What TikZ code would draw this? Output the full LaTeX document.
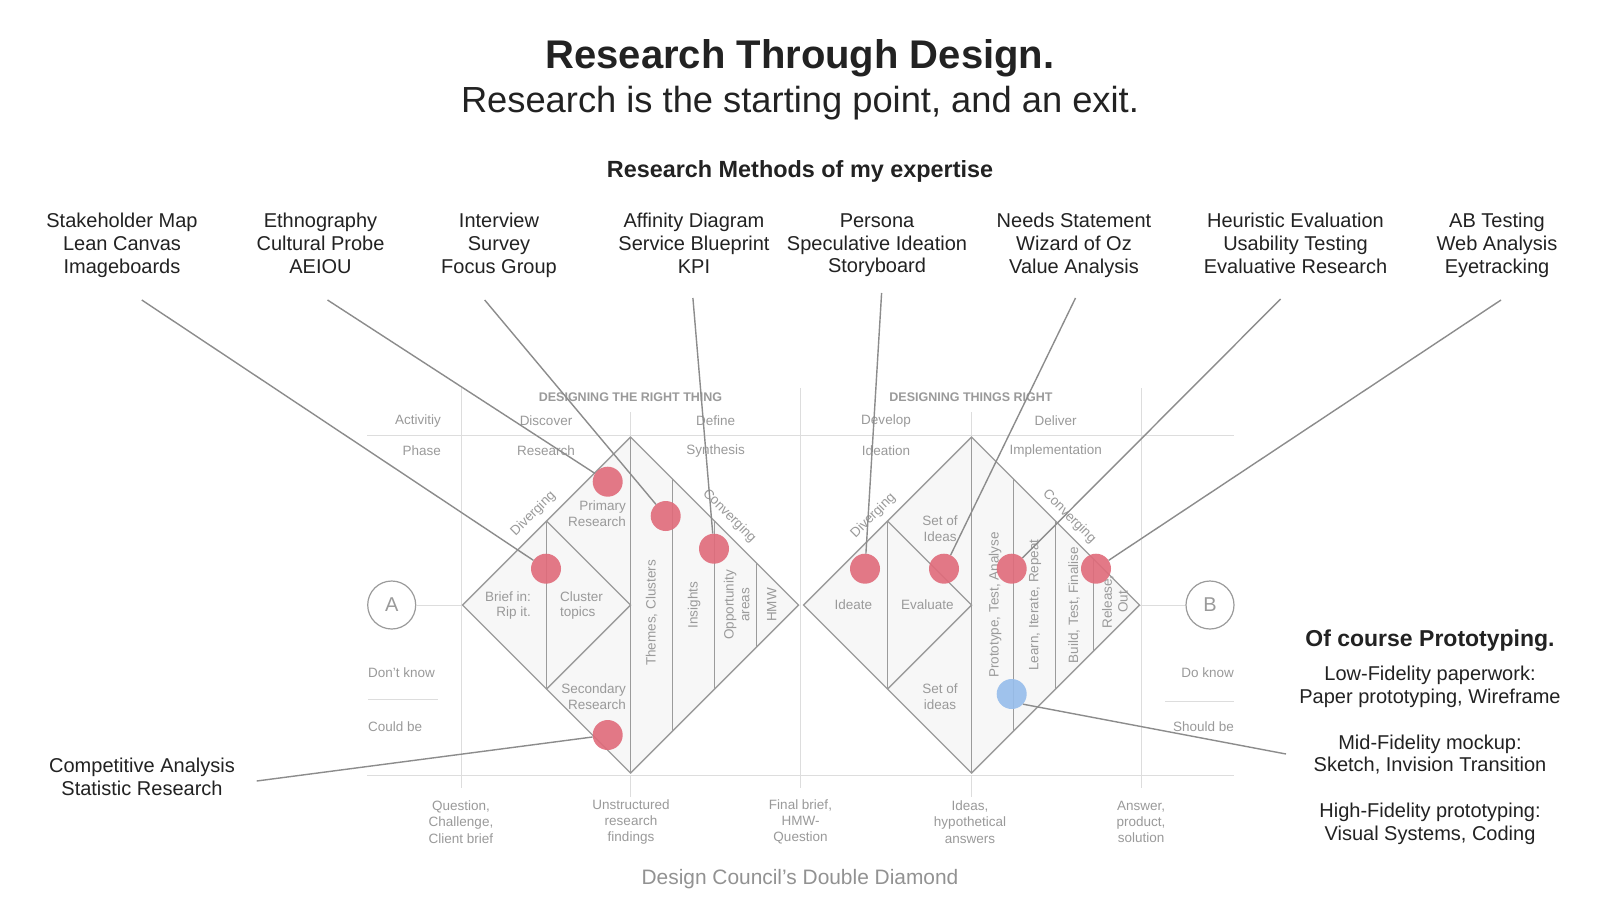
\documentclass[tikz,border=0pt]{standalone}
\usepackage{fontspec}
\setmainfont{Liberation Sans}
\newcommand\myfs[2]{\fontsize{#1}{#2}\selectfont}
\definecolor{txt}{HTML}{222222}
\definecolor{glbl}{HTML}{9A9A9A}
\definecolor{gline}{HTML}{9B9B9B}
\definecolor{gridc}{HTML}{DDDDDD}
\definecolor{leadc}{HTML}{8C8C8C}
\definecolor{dfill}{HTML}{F7F7F7}
\definecolor{dred}{HTML}{E06B7A}
\definecolor{dblue}{HTML}{96BDEB}
\definecolor{capc}{HTML}{929292}
\begin{document}
\begin{tikzpicture}[x=1pt,y=-1pt,
  gl/.style={text=glbl, font=\myfs{13.5}{15.8}, inner sep=0pt, align=center},
  tl/.style={text=txt, font=\myfs{20}{22.8}, inner sep=0pt, align=center,
     execute at begin node=\strut, execute at end node=\strut},
  dot/.style={circle, fill=dred, fill opacity=0.9, minimum size=30pt, inner sep=0pt, draw=none},
  leadln/.style={draw=leadc, line width=1.4pt},
  dline/.style={draw=gline, line width=1.4pt, line join=miter},
  gridln/.style={draw=gridc, line width=1pt},
  ring/.style={circle, draw=gline, line width=1.2pt, minimum size=48pt, inner sep=0pt, text=glbl, font=\myfs{20}{22}}]
\useasboundingbox (0,0) rectangle (1600,900);
\fill[white] (0,0) rectangle (1600,900);

% titles
\node[text=txt, font=\bfseries\myfs{40}{44}, inner sep=0pt] (title) at (800,58) {Research Through Design.};
\node[text=txt, font=\myfs{36.3}{40}, inner sep=0pt] (subtitle) at (800,103) {Research is the starting point, and an exit.};
\node[text=txt, font=\bfseries\myfs{23.4}{26}, inner sep=0pt] (methods) at (800,171) {Research Methods of my expertise};

% top labels
\node[tl] (m1) at (122,246.7) {Stakeholder Map\\Lean Canvas\\Imageboards};
\node[tl] (m2) at (320.5,246.7) {Ethnography\\Cultural Probe\\AEIOU};
\node[tl] (m3) at (499,246.7) {Interview\\Survey\\Focus Group};
\node[tl] (m4) at (694,246.7) {Affinity Diagram\\Service Blueprint\\KPI};
\node[tl] (m5) at (877,246.7) {Persona\\Speculative Ideation\\Storyboard};
\node[tl] (m6) at (1074,246.7) {Needs Statement\\Wizard of Oz\\Value Analysis};
\node[tl] (m7) at (1295.5,246.7) {Heuristic Evaluation\\Usability Testing\\Evaluative Research};
\node[tl] (m8) at (1497,246.7) {AB Testing\\Web Analysis\\Eyetracking};
\node[tl] (m9) at (142,780.5) {Competitive Analysis\\Statistic Research};

% grid
\draw[gridln] (461,388) -- (461,788);
\draw[gridln] (800.5,388) -- (800.5,788);
\draw[gridln] (1141,388) -- (1141,788);
\draw[gridln] (630.5,412) -- (630.5,435);
\draw[gridln] (630.5,775) -- (630.5,797);
\draw[gridln] (971.5,412) -- (971.5,435);
\draw[gridln] (971.5,775) -- (971.5,797);
\draw[gridln] (367,435) -- (1234,435);
\draw[gridln] (367,775) -- (1234,775);
\draw[gridln] (368,699.3) -- (437.7,699.3);
\draw[gridln] (1165,701) -- (1234,701);

% circles A and B
\node[ring] (A) at (391.7,605) {A};
\node[ring] (B) at (1210,605) {B};
\coordinate (d1w) at (462.5,605);
\coordinate (d2e) at (1139.5,605);
\draw[gridln] (A) -- (d1w);
\draw[gridln] (d2e) -- (B);

% diamond 1
\begin{scope}[shift={(630.5,605)}]
  \filldraw[dline, fill=dfill] (-168,0) -- (0,-168) -- (168,0) -- (0,168) -- cycle;
  \draw[dline] (-84,-84) -- (0,0) -- (-84,84);
  \draw[dline] (-84,-84) -- (-84,84);
  \draw[dline] (0,-168) -- (0,168);
  \draw[dline] (42,-126) -- (42,126);
  \draw[dline] (84,-84) -- (84,84);
  \draw[dline] (126,-42) -- (126,42);
\end{scope}
% diamond 2
\begin{scope}[shift={(971.5,605)}]
  \filldraw[dline, fill=dfill] (-168,0) -- (0,-168) -- (168,0) -- (0,168) -- cycle;
  \draw[dline] (-84,-84) -- (0,0) -- (-84,84);
  \draw[dline] (-84,-84) -- (-84,84);
  \draw[dline] (0,-168) -- (0,168);
  \draw[dline] (42,-126) -- (42,126);
  \draw[dline] (84,-84) -- (84,84);
  \draw[dline] (122,-46) -- (122,46);
\end{scope}

% header labels
\node[gl, font=\bfseries\myfs{12.5}{14}] (h1) at (630.5,397.3) {DESIGNING THE RIGHT THING};
\node[gl, font=\bfseries\myfs{12.5}{14}] (h2) at (971,397.3) {DESIGNING THINGS RIGHT};
\node[gl, anchor=east] (act) at (441,420.7) {Activitiy};
\node[gl, anchor=east] (phase) at (441,450.7) {Phase};
\node[gl] (disc) at (546,420.7) {Discover};
\node[gl] (res) at (546,450.7) {Research};
\node[gl] (def) at (715.7,420.7) {Define};
\node[gl] (syn) at (715.7,450.7) {Synthesis};
\node[gl] (dev) at (886,420.7) {Develop};
\node[gl] (idea) at (886,450.7) {Ideation};
\node[gl] (deliv) at (1055.7,420.7) {Deliver};
\node[gl] (impl) at (1055.7,450.7) {Implementation};
\node[gl, anchor=west] (dk) at (368,672.3) {Don't know};
\node[gl, anchor=west] (cb1) at (368,726.7) {Could be};
\node[gl, anchor=east] (dok) at (1234,672.3) {Do know};
\node[gl, anchor=east] (sb) at (1234,726.7) {Should be};

% diamond 1 labels
\node[gl, rotate=45] (div1) at (533.3,514) {Diverging};
\node[gl, rotate=-45] (conv1) at (729.3,516) {Converging};
\node[gl, anchor=east, align=right] (brief) at (531,605.5) {Brief in:\\Rip it.};
\node[gl, anchor=west, align=left] (cluster) at (560,605.5) {Cluster\\topics};
\node[gl, anchor=east, align=right] (prim) at (626,514) {Primary\\Research};
\node[gl, anchor=east, align=right] (sec) at (626,696.3) {Secondary\\Research};
\node[gl, rotate=90] (themes) at (651.7,613) {Themes, Clusters};
\node[gl, rotate=90] (ins) at (694,605) {Insights};
\node[gl, rotate=90] (opp) at (736.7,605) {Opportunity\\areas};
\node[gl, rotate=90] (hmw) at (771.7,605) {HMW};

% diamond 2 labels
\node[gl, rotate=45] (div2) at (873.3,516) {Diverging};
\node[gl, rotate=-45] (conv2) at (1069.3,516.7) {Converging};
\node[gl] (ideate) at (853.3,605) {Ideate};
\node[gl] (evalu) at (927.3,605) {Evaluate};
\node[gl] (soi1) at (940,528.3) {Set of\\Ideas};
\node[gl] (soi2) at (940,696.7) {Set of\\ideas};
\node[gl, rotate=90] (pta) at (995,605) {Prototype, Test, Analyse};
\node[gl, rotate=90] (lir) at (1035,605) {Learn, Iterate, Repeat};
\node[gl, rotate=90] (btf) at (1074,605) {Build, Test, Finalise};
\node[gl, rotate=90] (rel) at (1115,602) {Release,\\Out};

% bottom labels
\node[gl, font=\myfs{13.5}{16.2}] (b1) at (461,822) {Question,\\Challenge,\\Client brief};
\node[gl, font=\myfs{13.5}{16.2}] (b2) at (631,822) {Unstructured\\research\\findings};
\node[gl, font=\myfs{13.5}{16.2}] (b3) at (800.5,822) {Final brief,\\HMW-\\Question};
\node[gl, font=\myfs{13.5}{16.2}] (b4) at (970,822) {Ideas,\\hypothetical\\answers};
\node[gl, font=\myfs{13.5}{16.2}] (b5) at (1141,822) {Answer,\\product,\\solution};
\node[text=capc, font=\myfs{20.9}{23}, inner sep=0pt] (ddd) at (800,879.5) {Design Council's Double Diamond};

% prototyping
\node[text=txt, font=\bfseries\myfs{23}{26}, inner sep=0pt] (proto) at (1430,641) {Of course Prototyping.};
\node[tl, font=\myfs{20}{22.5}] (pl) at (1430,688) {Low-Fidelity paperwork:\\Paper prototyping, Wireframe};
\node[tl, font=\myfs{20}{22.5}] (pm) at (1430,756.7) {Mid-Fidelity mockup:\\Sketch, Invision Transition};
\node[tl, font=\myfs{20}{22.5}] (ph) at (1430,825) {High-Fidelity prototyping:\\Visual Systems, Coding};

% dots
\node[dot] (c1) at (546,568.7) {};
\node[dot] (c2) at (607.7,481.7) {};
\node[dot] (c3) at (665.7,516) {};
\node[dot] (c4) at (714,548.7) {};
\node[dot] (c5) at (607.7,735) {};
\node[dot] (c6) at (865,568.7) {};
\node[dot] (c7) at (944,568.7) {};
\node[dot] (c8) at (1011.7,568.7) {};
\node[dot] (c9) at (1096,568.7) {};
\node[dot, fill=dblue] (cb) at (1011.7,694) {};

% leader lines
\coordinate (s1) at (141.8,300);
\coordinate (s2) at (327.5,300);
\coordinate (s3) at (484.7,300);
\coordinate (s4) at (692.9,298);
\coordinate (s5) at (881.6,293);
\coordinate (s6) at (1075.5,298);
\coordinate (s7) at (1280.6,299);
\coordinate (s8) at (1501,300);
\coordinate (s9) at (256.7,781);
\coordinate (s10) at (1286,754);
\draw[leadln] (s1) -- (c1);
\draw[leadln] (s2) -- (c2);
\draw[leadln] (s3) -- (c3);
\draw[leadln] (s4) -- (c4);
\draw[leadln] (s5) -- (c6);
\draw[leadln] (s6) -- (c7);
\draw[leadln] (s7) -- (c8);
\draw[leadln] (s8) -- (c9);
\draw[leadln] (s9) -- (c5);
\draw[leadln] (cb.-42) -- (s10);
\end{tikzpicture}
\end{document}
